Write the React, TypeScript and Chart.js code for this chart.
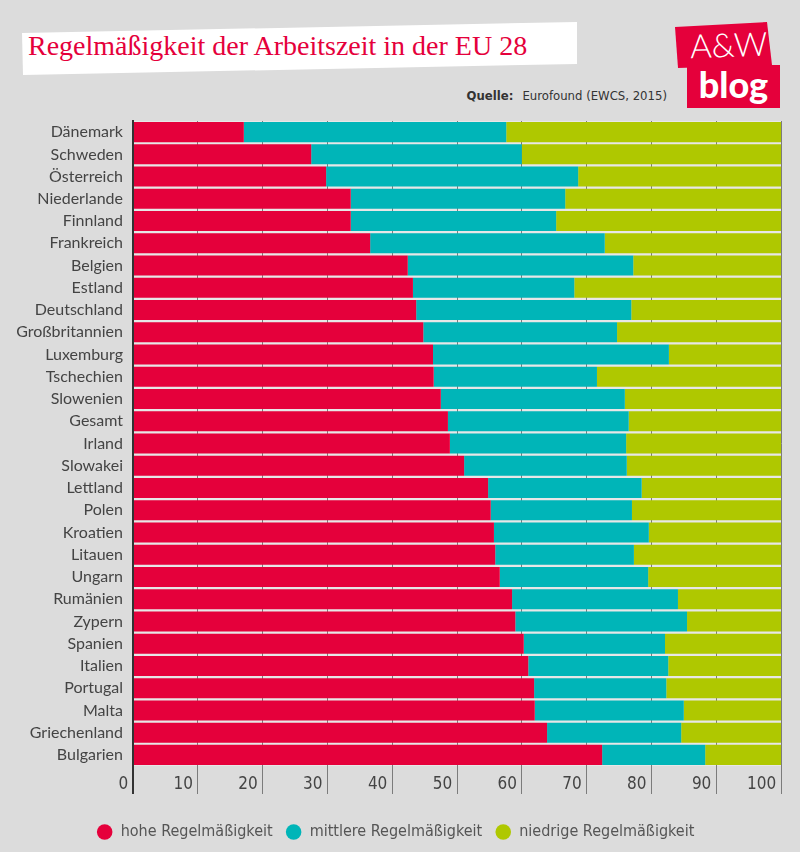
import React, { useEffect, useRef } from "react";
import { Chart, registerables } from "chart.js";

Chart.register(...registerables);

const categories = [
  "Dänemark", "Schweden", "Österreich", "Niederlande", "Finnland", "Frankreich",
  "Belgien", "Estland", "Deutschland", "Großbritannien", "Luxemburg", "Tschechien",
  "Slowenien", "Gesamt", "Irland", "Slowakei", "Lettland", "Polen", "Kroatien",
  "Litauen", "Ungarn", "Rumänien", "Zypern", "Spanien", "Italien", "Portugal",
  "Malta", "Griechenland", "Bulgarien",
];

const hohe = [
  17.1, 27.5, 29.8, 33.6, 33.6, 36.6, 42.4, 43.2, 43.7, 44.8, 46.3, 46.4, 47.5, 48.6,
  48.9, 51.1, 54.8, 55.2, 55.7, 55.9, 56.6, 58.5, 59.0, 60.3, 61.0, 61.9, 62.0, 63.9, 72.4,
];
const mittlere = [
  40.5, 32.5, 38.9, 33.1, 31.7, 36.2, 34.8, 24.9, 33.2, 29.9, 36.4, 25.2, 28.4, 27.9,
  27.2, 25.1, 23.7, 21.8, 23.9, 21.4, 22.9, 25.6, 26.5, 21.8, 21.6, 20.4, 23.0, 20.7, 15.9,
];
const niedrige = [
  42.4, 40.0, 31.3, 33.3, 34.7, 27.2, 22.8, 31.9, 23.1, 25.3, 17.3, 28.4, 24.1, 23.5,
  23.9, 23.8, 21.5, 23.0, 20.4, 22.7, 20.5, 15.9, 14.5, 17.9, 17.4, 17.7, 15.0, 15.4, 11.7,
];

const seriesNames = ["hohe Regelmäßigkeit", "mittlere Regelmäßigkeit", "niedrige Regelmäßigkeit"];
const seriesColors = ["#e5003b", "#00b5b8", "#afc800"];
const xMin = 0;
const xMax = 100;
const xStep = 10;

const TITLE = "Regelmäßigkeit der Arbeitszeit in der EU 28";
const SOURCE_LABEL = "Quelle:";
const SOURCE_TEXT = "Eurofound (EWCS, 2015)";

const CONDENSED = "'Liberation Sans Narrow', 'DejaVu Sans Condensed', Roboto, sans-serif";
const LABEL_FONT = "Lato, 'Noto Sans', sans-serif";

const plotBg = {
  id: "plotBg",
  beforeDraw(chart: any) {
    const { ctx, chartArea: a } = chart;
    ctx.save();
    ctx.fillStyle = "#e7e7e7";
    ctx.fillRect(a.left, a.top, a.right - a.left, a.bottom - a.top);
    ctx.restore();
  },
};

const axisLine = {
  id: "axisLine",
  afterDatasetsDraw(chart: any) {
    const { ctx, chartArea: a, scales } = chart;
    const x = scales.x.getPixelForValue(0);
    ctx.save();
    ctx.strokeStyle = "#333333";
    ctx.lineWidth = 2;
    ctx.beginPath();
    ctx.moveTo(x, a.top - 1);
    ctx.lineTo(x, a.bottom + 28);
    ctx.stroke();
    ctx.restore();
  },
};

export default function App() {
  const ref = useRef<HTMLCanvasElement | null>(null);

  useEffect(() => {
    if (!ref.current) return;
    const gridColor = (c: any) => (c.tick && c.tick.value === 0 ? "rgba(0,0,0,0)" : "#7c7c7c");
    const chart = new Chart(ref.current, {
      type: "bar",
      data: {
        labels: categories,
        datasets: [hohe, mittlere, niedrige].map((d, i) => ({
          label: seriesNames[i],
          data: d,
          backgroundColor: seriesColors[i],
          borderWidth: 0,
          barPercentage: 0.9,
          categoryPercentage: 1,
        })),
      },
      options: {
        indexAxis: "y",
        responsive: false,
        animation: false,
        layout: { padding: { top: 121, right: 19, left: 10, bottom: 2 } },
        plugins: {
          tooltip: { enabled: false },
          legend: {
            position: "bottom",
            labels: {
              usePointStyle: true,
              pointStyle: "circle",
              boxHeight: 11,
              padding: 13,
              color: "#555555",
              font: { family: CONDENSED, size: 16 },
            },
          },
        },
        scales: {
          y: {
            stacked: true,
            grid: { display: false, drawTicks: false },
            border: { display: false },
            ticks: {
              autoSkip: false,
              padding: 10,
              color: "#444444",
              font: { family: LABEL_FONT, size: 16 },
            },
            afterFit: (s: any) => {
              s.width = 123;
            },
          },
          x: {
            stacked: true,
            min: xMin,
            max: xMax,
            border: { display: false },
            grid: {
              color: gridColor,
              tickColor: gridColor,
              lineWidth: 1,
              drawTicks: true,
              tickLength: 28,
            },
            ticks: {
              stepSize: xStep,
              align: "end",
              padding: -20,
              color: "#444444",
              font: { family: CONDENSED, size: 17 },
              callback: (v: any) => v + " ",
            },
            afterFit: (s: any) => {
              s.height = 45;
            },
          },
        },
      },
      plugins: [plotBg, axisLine],
    } as any);
    return () => chart.destroy();
  }, []);

  return (
    <div
      style={{
        position: "absolute",
        left: 0,
        top: 0,
        width: 800,
        height: 852,
        background: "#dcdcdc",
        overflow: "hidden",
      }}
    >
      <div
        style={{
          position: "absolute",
          left: 0,
          top: 0,
          width: 800,
          height: 120,
          background: "#ffffff",
          clipPath: "polygon(22px 33px, 577px 22px, 577px 64px, 23px 75px)",
        }}
      />
      <div
        style={{
          position: "absolute",
          left: 28,
          top: 32,
          fontFamily: "'Liberation Serif', serif",
          fontSize: 28,
          lineHeight: "28px",
          color: "#e5003b",
          whiteSpace: "nowrap",
        }}
      >
        {TITLE}
      </div>
      <div
        style={{
          position: "absolute",
          right: 133,
          top: 87,
          fontFamily: CONDENSED,
          fontSize: 13,
          lineHeight: "17px",
          color: "#333333",
          whiteSpace: "nowrap",
        }}
      >
        <span style={{ fontWeight: 700 }}>{SOURCE_LABEL}</span>
        <span style={{ marginLeft: 9 }}>{SOURCE_TEXT}</span>
      </div>
      <div
        style={{
          position: "absolute",
          left: 0,
          top: 0,
          width: 800,
          height: 120,
          background: "#e5003b",
          clipPath: "polygon(675px 27px, 767px 22px, 772px 65px, 678px 68px)",
        }}
      />
      <div
        style={{
          position: "absolute",
          left: 687,
          top: 65,
          width: 93,
          height: 43,
          background: "#e5003b",
        }}
      />
      <div
        style={{
          position: "absolute",
          left: 690,
          top: 24,
          width: 76,
          textAlign: "center",
          fontFamily: "Lato, sans-serif",
          fontWeight: 300,
          fontSize: 33,
          lineHeight: "40px",
          color: "#ffffff",
          transform: "rotate(-2deg)",
        }}
      >
        A&amp;W
      </div>
      <div
        style={{
          position: "absolute",
          left: 687,
          top: 63,
          width: 93,
          textAlign: "center",
          fontFamily: "Lato, sans-serif",
          fontWeight: 900,
          fontSize: 36,
          lineHeight: "42px",
          color: "#ffffff",
        }}
      >
        blog
      </div>
      <canvas
        ref={ref}
        width={800}
        height={852}
        style={{ position: "absolute", left: 0, top: 0, width: 800, height: 852 }}
      />
    </div>
  );
}
